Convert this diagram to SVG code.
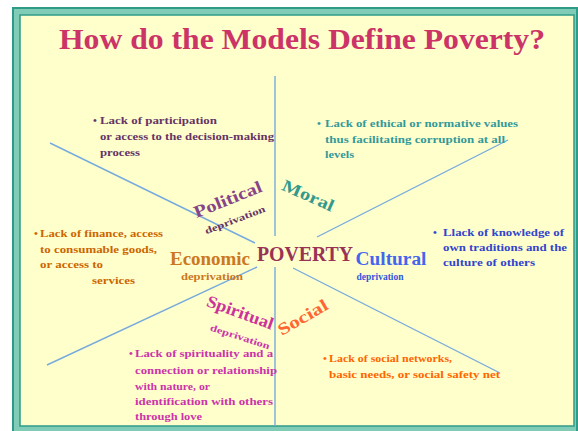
<svg xmlns="http://www.w3.org/2000/svg" width="578" height="431" viewBox="0 0 578 431">
<style>
text{font-family:'Liberation Serif','DejaVu Serif','Times New Roman',Times,serif;font-weight:700}
.b{font-size:11px}
.lab{font-size:17px;text-anchor:middle}
.dep{font-size:9.5px;text-anchor:middle}
.ln{stroke:#77AADD;stroke-width:1.4;fill:none}
.pol{fill:#663366}.mor{fill:#339999}.eco{fill:#CC6600}.cul{fill:#3344CC}.spi{fill:#CC33AA}.soc{fill:#FF6600}
</style>
<rect x="0" y="0" width="578" height="431" fill="#FFFFFF"/>
<rect x="13" y="8" width="564" height="424" fill="#80CCB6" stroke="#2E9A88" stroke-width="2"/>
<rect x="20" y="15" width="554" height="411" fill="#FFFFCC" stroke="#2E9A88" stroke-width="1.5"/>
<text x="302" y="49" font-size="30" text-anchor="middle" fill="#CC3366" textLength="486" lengthAdjust="spacingAndGlyphs">How do the Models Define Poverty?</text>
<g id="connectors">
<line class="ln" x1="275" y1="76" x2="275" y2="236" stroke-width="1.8"/>
<line class="ln" x1="275" y1="267" x2="275" y2="426" stroke-width="1.8"/>
<line class="ln" x1="50" y1="143" x2="255" y2="243"/>
<line class="ln" x1="317" y1="237" x2="508" y2="140"/>
<line class="ln" x1="47" y1="365" x2="257" y2="267"/>
<line class="ln" x1="293" y1="268" x2="500" y2="373"/>
</g>
<g id="poverty">
<text x="305" y="261" font-size="20" text-anchor="middle" fill="#993355" textLength="96" lengthAdjust="spacingAndGlyphs">POVERTY</text>
</g>
<g id="political">
<text class="lab" x="228" y="205" fill="#884488" transform="rotate(-22 228 200)" textLength="72" lengthAdjust="spacingAndGlyphs">Political</text>
<text class="dep" x="235" y="223" fill="#663366" transform="rotate(-21 235 220)" textLength="64" lengthAdjust="spacingAndGlyphs">deprivation</text>
<text class="pol" x="93" y="124" font-size="11">•</text>
<text class="b pol" x="100" y="124" textLength="117" lengthAdjust="spacingAndGlyphs">Lack of participation</text>
<text class="b pol" x="100" y="140" textLength="174" lengthAdjust="spacingAndGlyphs">or access to the decision-making</text>
<text class="b pol" x="100" y="156" textLength="40" lengthAdjust="spacingAndGlyphs">process</text>
</g>
<g id="moral">
<text class="lab" x="308" y="201" fill="#33998B" transform="rotate(24 308 196)" textLength="55" lengthAdjust="spacingAndGlyphs">Moral</text>
<text class="mor" x="317" y="127" font-size="11">•</text>
<text class="b mor" x="325" y="127" textLength="193" lengthAdjust="spacingAndGlyphs">Lack of ethical or normative values</text>
<text class="b mor" x="325" y="143" textLength="180" lengthAdjust="spacingAndGlyphs">thus facilitating corruption at all</text>
<text class="b mor" x="325" y="158" textLength="29" lengthAdjust="spacingAndGlyphs">levels</text>
</g>
<g id="economic">
<text x="210" y="265" font-size="18" text-anchor="middle" fill="#CC7722" textLength="80" lengthAdjust="spacingAndGlyphs">Economic</text>
<text x="212" y="280" font-size="10" text-anchor="middle" fill="#CC7722" textLength="62" lengthAdjust="spacingAndGlyphs">deprivation</text>
<text class="eco" x="34" y="237" font-size="11">•</text>
<text class="b eco" x="40" y="237" textLength="123" lengthAdjust="spacingAndGlyphs">Lack of finance, access</text>
<text class="b eco" x="40" y="253" textLength="117" lengthAdjust="spacingAndGlyphs">to consumable goods,</text>
<text class="b eco" x="40" y="268" textLength="63" lengthAdjust="spacingAndGlyphs">or access to</text>
<text class="b eco" x="92" y="284" textLength="43" lengthAdjust="spacingAndGlyphs">services</text>
</g>
<g id="cultural">
<text x="391" y="265" font-size="18" text-anchor="middle" fill="#4466EE" textLength="71" lengthAdjust="spacingAndGlyphs">Cultural</text>
<text x="380" y="280" font-size="10" text-anchor="middle" fill="#3355DD" textLength="47" lengthAdjust="spacingAndGlyphs">deprivation</text>
<text class="cul" x="433" y="236" font-size="11">•</text>
<text class="b cul" x="443" y="236" textLength="121" lengthAdjust="spacingAndGlyphs">Llack of knowledge of</text>
<text class="b cul" x="443" y="251" textLength="124" lengthAdjust="spacingAndGlyphs">own traditions and the</text>
<text class="b cul" x="443" y="266" textLength="92" lengthAdjust="spacingAndGlyphs">culture of others</text>
</g>
<g id="spiritual">
<text class="lab" x="240" y="318" fill="#CC3399" transform="rotate(20 240 313)" textLength="70" lengthAdjust="spacingAndGlyphs">Spiritual</text>
<text class="dep" x="240" y="340" fill="#CC33AA" transform="rotate(18 240 337)" textLength="62" lengthAdjust="spacingAndGlyphs">deprivation</text>
<text class="spi" x="129" y="357" font-size="11">•</text>
<text class="b spi" x="135" y="357" textLength="138" lengthAdjust="spacingAndGlyphs">Lack of spirituality and a</text>
<text class="b spi" x="135" y="374" textLength="142" lengthAdjust="spacingAndGlyphs">connection or relationship</text>
<text class="b spi" x="135" y="390" textLength="75" lengthAdjust="spacingAndGlyphs">with nature, or</text>
<text class="b spi" x="135" y="405" textLength="138" lengthAdjust="spacingAndGlyphs">identification with others</text>
<text class="b spi" x="135" y="420" textLength="67" lengthAdjust="spacingAndGlyphs">through love</text>
</g>
<g id="social">
<text class="lab" x="303" y="323" fill="#FF6633" transform="rotate(-30 303 318)" textLength="55" lengthAdjust="spacingAndGlyphs">Social</text>
<text class="soc" x="323" y="362" font-size="11">•</text>
<text class="b soc" x="329" y="362" textLength="123" lengthAdjust="spacingAndGlyphs">Lack of social networks,</text>
<text class="b soc" x="329" y="378" textLength="171" lengthAdjust="spacingAndGlyphs">basic needs, or social safety net</text>
</g>
</svg>
